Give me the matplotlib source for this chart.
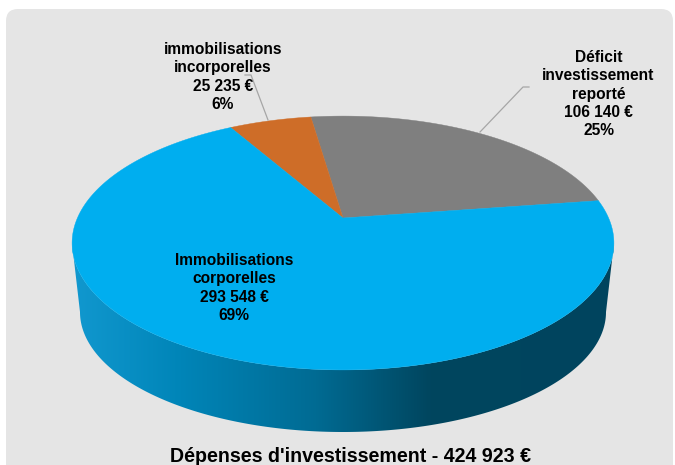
import numpy as np
from matplotlib import pyplot as plt
from matplotlib.colors import LinearSegmentedColormap
from matplotlib.patches import FancyBboxPatch, Polygon

# slices, in drawing order (counter clockwise from the start angle)
labels = ['Déficit\ninvestissement\nreporté\n106 140 €\n25%',
          'immobilisations\nincorporelles\n25 235 €\n6%',
          'Immobilisations\ncorporelles\n293 548 €\n69%']
values = [106140, 25235, 293548]
colors = ['#7F7F7F', '#CE6D28', '#00AEEF']
title = "Dépenses d'investissement - 424 923 €"

label_pos = [(598.5, 94), (223, 77), (234, 288)]
leaders = [[(480, 132), (523, 87), (529, 87)],
           [(268, 120), (251, 75), (245, 75)]]

# pie is a tilted disc, seen in perspective: apex is not the ellipse centre
cx, cy = 343, 218
sx, sy, k = 265.6, 122, -0.197
start_angle = 8.4


def project(theta, r=1.0):
    u = r * np.cos(theta)
    v = r * np.sin(theta)
    w = 1 - k * v
    return cx + sx * u / w, cy - sy * v / w


fig = plt.figure(figsize=(6.75, 4.65), dpi=100)
ax = fig.add_axes([0, 0, 1, 1])
ax.set_xlim(0, 675)
ax.set_ylim(465, 0)
ax.axis('off')

ax.add_patch(FancyBboxPatch((18, 21), 643, 470, boxstyle='round,pad=12,rounding_size=12',
                            facecolor='#E5E5E5', edgecolor='none', zorder=0))

# side wall
t = np.linspace(np.pi, 2 * np.pi, 300)
top_x = 343 + 271 * np.cos(t)
top_y = 243 - 127 * np.sin(t)
bottom_x = 343 + 263 * np.cos(t)
bottom_y = 312 - 120 * np.sin(t)
wall = Polygon(np.column_stack([np.r_[top_x, bottom_x[::-1]], np.r_[top_y, bottom_y[::-1]]]),
               facecolor='none', edgecolor='none')
ax.add_patch(wall)
wall_cmap = LinearSegmentedColormap.from_list(
    'wall', [(0, '#1198CF'), (0.2, '#0085B8'), (0.45, '#006B93'),
             (0.66, '#00465F'), (1, '#00445E')])
grad = ax.imshow(np.linspace(0, 1, 256).reshape(1, -1), cmap=wall_cmap, aspect='auto',
                 extent=(72, 614, 440, 240), zorder=1)
ax.set_xlim(0, 675)
ax.set_ylim(465, 0)
grad.set_clip_path(wall)

# top face
fractions = np.array(values) / sum(values)
edges = np.radians(start_angle) + 2 * np.pi * np.r_[0, np.cumsum(fractions)]
for i in range(len(values)):
    a = np.linspace(edges[i], edges[i + 1], 300)
    x, y = project(a)
    ax.fill(np.r_[cx, x], np.r_[cy, y], color=colors[i], linewidth=0.3, zorder=2)

for line in leaders:
    ax.plot([p[0] for p in line], [p[1] for p in line], color='#A6A6A6', lw=0.9, zorder=3)

for text, (x, y) in zip(labels, label_pos):
    ax.text(x, y, text, ha='center', va='center', family='Liberation Sans', fontweight='bold',
            fontsize=11.2, linespacing=1.26, color='black', zorder=4)

ax.text(351, 456, title, ha='center', va='center', family='Liberation Sans',
        fontweight='bold', fontsize=14.15, color='black', zorder=4)

fig.savefig('out.png', dpi=100)
